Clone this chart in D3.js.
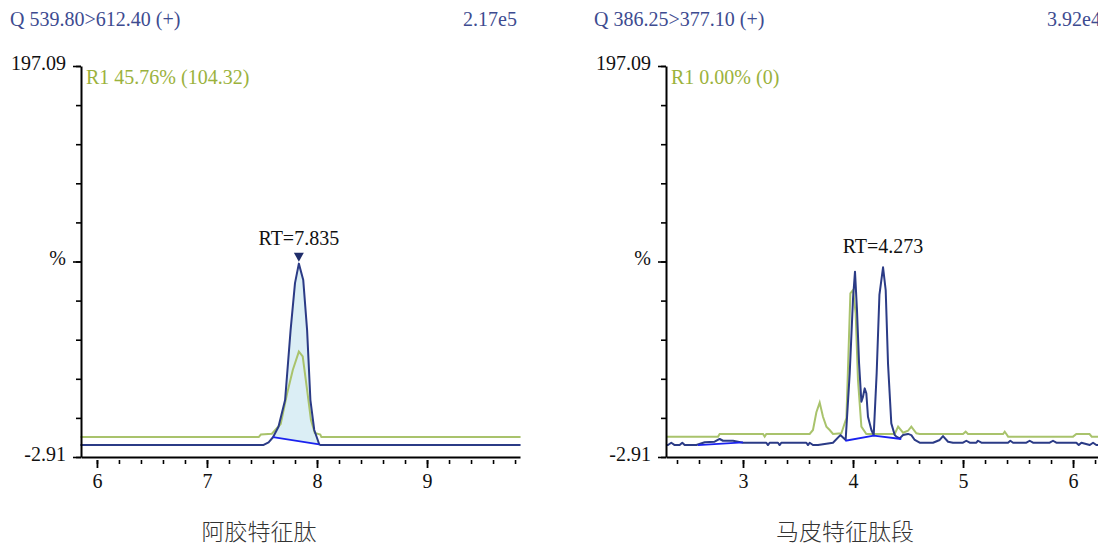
<!DOCTYPE html>
<html>
<head>
<meta charset="utf-8">
<script src="https://cdn.jsdelivr.net/npm/d3@7"></script>
<style>
  body { margin: 0; background: #fff; }
  svg { display: block; }
</style>
</head>
<body>
<svg id="chart" width="1098" height="546"></svg>
<script>
// ---- data ----
const yDomain = [-2.91, 197.09];
const yTickValues = d3.range(0, 11).map(i => -2.91 + i * 20);
const yTickLabels = { '-2.91': '-2.91', '97.09': '%', '197.09': '197.09' };

const leftTitle = '阿胶特征肽';
const leftTransition = 'Q 539.80>612.40 (+)';
const leftIntensity = '2.17e5';
const leftRatio = 'R1 45.76% (104.32)';
const leftRT = 7.835;
const leftXTicks = [6, 7, 8, 9];
const leftSample = [
  [5.85, 3.2], [7.51, 3.2], [7.56, 4.6], [7.60, 7.2], [7.65, 12.6], [7.71, 26.2],
  [7.76, 62], [7.80, 86], [7.835, 96], [7.875, 87.6], [7.91, 62], [7.94, 26.2],
  [7.975, 10.9], [8.02, 3.6], [8.03, 3.2], [9.85, 3.2]
];
const leftReference = [
  [5.85, 7.3], [7.47, 7.3], [7.49, 8.6], [7.59, 9.0], [7.67, 14], [7.73, 30],
  [7.78, 41.6], [7.835, 51], [7.87, 48.5], [7.91, 31.4], [7.945, 16], [7.98, 9.4],
  [8.03, 8.6], [8.04, 7.3], [9.85, 7.3]
];
const leftBaselines = [[[7.60, 7.2], [8.02, 3.6]]];

const rightTitle = '马皮特征肽段';
const rightTransition = 'Q 386.25>377.10 (+)';
const rightIntensity = '3.92e4';
const rightRatio = 'R1 0.00% (0)';
const rightRT = 4.273;
const rightXTicks = [3, 4, 5, 6];
const rightSample = [
  [2.30, 3.2], [2.318, 3.2], [2.348, 4.4], [2.379, 3.2], [2.424, 3.2], [2.448, 4.4],
  [2.470, 3.2], [2.576, 3.2], [2.652, 4.6], [2.742, 4.9], [2.788, 6.3], [2.818, 5.4],
  [2.909, 5.4], [3.0, 4.4], [3.212, 4.4], [3.227, 3.2], [3.242, 4.4], [3.318, 4.4],
  [3.333, 3.2], [3.348, 4.4], [3.576, 4.4], [3.591, 3.2], [3.606, 4.4], [3.636, 3.2],
  [3.682, 3.2], [3.818, 4.4], [3.885, 8.3], [3.933, 5.8], [3.97, 40], [4.0, 78],
  [4.018, 91.9], [4.036, 72.3], [4.055, 45], [4.076, 25.4], [4.091, 28], [4.106, 32.2],
  [4.121, 29.7], [4.136, 17.7], [4.167, 10.9], [4.188, 8.3], [4.215, 40], [4.24, 80],
  [4.273, 94.1], [4.297, 82.5], [4.318, 45], [4.348, 14.3], [4.379, 8.3], [4.394, 7.5],
  [4.424, 6.6], [4.455, 8.3], [4.5, 8.9], [4.530, 8.3], [4.561, 5.8], [4.606, 4.4],
  [4.727, 4.4], [4.788, 5.8], [4.818, 7.8], [4.864, 4.9], [4.909, 4.4], [5.0, 4.4],
  [5.030, 5.4], [5.061, 4.4], [5.121, 4.4], [5.136, 5.4], [5.167, 4.4], [5.409, 4.4],
  [5.430, 5.4], [5.455, 4.4], [5.576, 4.4], [5.606, 5.4], [5.636, 4.4], [5.788, 4.4],
  [5.818, 5.4], [5.848, 4.4], [6.030, 4.4], [6.052, 3.2], [6.076, 4.4], [6.152, 3.2],
  [6.182, 4.4], [6.212, 3.2], [6.24, 3.2]
];
const rightReference = [
  [2.30, 7.5], [2.773, 7.5], [2.788, 8.85], [3.182, 8.85], [3.197, 7.5], [3.212, 8.85],
  [3.606, 8.85], [3.636, 10.9], [3.667, 20], [3.697, 24.9], [3.727, 17.7], [3.758, 12.6],
  [3.788, 10.9], [3.818, 8.85], [3.894, 9.2], [3.94, 17], [3.976, 80.8], [4.0, 82.5],
  [4.024, 70.6], [4.045, 36.5], [4.076, 12.6], [4.121, 8.85], [4.379, 8.85], [4.41, 12.6],
  [4.455, 9.5], [4.5, 10.5], [4.53, 12.6], [4.576, 9.2], [4.606, 8.85], [5.0, 8.85],
  [5.024, 10.05], [5.045, 8.85], [5.364, 8.85], [5.379, 10.05], [5.394, 8.85], [5.41, 7.5],
  [6.0, 7.5], [6.03, 8.85], [6.15, 8.85], [6.17, 7.5], [6.24, 7.5]
];
const rightBaselines = [
  [[2.591, 3.2], [3.0, 4.6]],
  [[3.93, 5.4], [4.188, 8.0], [4.439, 6.3]]
];

// ---- layout / style ----
const plotTop = 66, plotHeight = 391;
const serif = '"Liberation Serif", "Times New Roman", serif';
const fontSize = 20;
const navy = '#2b3b86';
const olive = '#a9c36c';
const headerColor = '#3d4b90';
const ratioColor = '#9bb23c';

const svg = d3.select('#chart');

function drawPanel(p) {
  const x = d3.scaleLinear().domain(p.xDomain).range([0, p.width]);
  const y = d3.scaleLinear().domain(yDomain).range([plotHeight, 0]);
  const line = d3.line().x(d => x(d[0])).y(d => y(d[1]));

  // header texts
  svg.append('text')
    .attr('x', p.headerX).attr('y', 26)
    .attr('font-family', serif).attr('font-size', fontSize)
    .attr('fill', headerColor)
    .text(p.transition);
  svg.append('text')
    .attr('x', p.intensityX).attr('y', 26)
    .attr('text-anchor', 'end')
    .attr('font-family', serif).attr('font-size', fontSize)
    .attr('fill', headerColor)
    .text(p.intensity);

  const g = svg.append('g').attr('transform', `translate(${p.left}, ${plotTop})`);

  // integrated area (sample peak above its baseline)
  if (p.fill) {
    const b = p.baselines[0];
    const start = b[0], end = b[b.length - 1];
    const pts = [start].concat(p.sample.filter(d => d[0] > start[0] && d[0] < end[0]), [end]);
    g.append('path')
      .attr('d', line(pts) + 'Z')
      .attr('fill', '#dbeef5')
      .attr('stroke', 'none');
  }

  g.append('path')
    .attr('d', line(p.reference))
    .attr('fill', 'none')
    .attr('stroke', olive)
    .attr('stroke-width', 2);

  g.append('path')
    .attr('d', line(p.sample))
    .attr('fill', 'none')
    .attr('stroke', navy)
    .attr('stroke-width', 2)
    .attr('stroke-linejoin', 'round');

  p.baselines.forEach(b => {
    g.append('path')
      .attr('d', line(b))
      .attr('fill', 'none')
      .attr('stroke', '#1a22ee')
      .attr('stroke-width', 1.8);
  });

  // axes: minor ticks then labelled major ticks (ticks sit a little below the axis line)
  const xMinor = d3.range(Math.ceil(p.xDomain[0] * 5), Math.floor(p.xDomain[1] * 5) + 1).map(k => k / 5);
  g.append('g')
    .attr('transform', `translate(0, ${plotHeight})`)
    .call(d3.axisBottom(x).tickValues(xMinor).tickSize(7).tickSizeOuter(0).tickFormat(''))
    .call(a => a.select('.domain').remove())
    .call(a => a.selectAll('.tick line').attr('y1', 3).attr('stroke-width', 1.6));
  const xAxis = g.append('g')
    .attr('transform', `translate(0, ${plotHeight})`)
    .call(d3.axisBottom(x).tickValues(p.xTicks).tickSize(11).tickSizeOuter(0)
      .tickPadding(6).tickFormat(d3.format('d')));
  xAxis.select('.domain').attr('stroke-width', 2);
  xAxis.selectAll('.tick line').attr('y1', 3).attr('stroke-width', 1.8);
  xAxis.selectAll('text')
    .attr('font-family', serif).attr('font-size', fontSize).attr('fill', '#111');

  g.append('g')
    .call(d3.axisLeft(y).tickValues(yTickValues).tickSize(5).tickSizeOuter(0).tickFormat(''))
    .call(a => a.select('.domain').remove())
    .call(a => a.selectAll('.tick line').attr('stroke-width', 1.6));
  const yAxis = g.append('g')
    .call(d3.axisLeft(y)
      .tickValues(yTickValues.filter(v => yTickLabels[v.toFixed(2)]))
      .tickSize(8).tickSizeOuter(0).tickPadding(7)
      .tickFormat(v => yTickLabels[v.toFixed(2)]));
  yAxis.select('.domain').attr('stroke-width', 2);
  yAxis.selectAll('.tick line').attr('stroke-width', 1.6);
  yAxis.selectAll('text')
    .attr('font-family', serif).attr('font-size', fontSize).attr('fill', '#111')
    .attr('dy', '0.15em');

  // ratio text
  g.append('text')
    .attr('x', 5).attr('y', 18)
    .attr('font-family', serif).attr('font-size', fontSize)
    .attr('fill', ratioColor)
    .text(p.ratio);

  // peak label
  const apex = d3.greatest(p.sample.filter(d => Math.abs(d[0] - p.rt) < 0.01), d => d[1]);
  if (p.marker) {
    const mx = x(p.rt), my = y(apex[1]) - 2;
    g.append('path')
      .attr('d', `M${mx - 5},${my - 9}L${mx + 5},${my - 9}L${mx},${my}Z`)
      .attr('fill', '#1f2d6a');
  }
  g.append('text')
    .attr('x', x(p.rt)).attr('y', y(apex[1]) - p.labelGap)
    .attr('text-anchor', 'middle')
    .attr('font-family', serif).attr('font-size', fontSize)
    .attr('fill', '#111')
    .text('RT=' + p.rt.toFixed(3));

  // panel caption
  svg.append('text')
    .attr('x', p.captionX).attr('y', 540)
    .attr('text-anchor', 'middle')
    .attr('font-family', '"Noto Sans CJK SC", sans-serif').attr('font-size', 23)
    .attr('font-weight', 300)
    .attr('fill', '#333')
    .text(p.title);
}

drawPanel({
  left: 81, width: 439, xDomain: [5.855, 9.845],
  headerX: 10, intensityX: 517, captionX: 259,
  transition: leftTransition, intensity: leftIntensity, ratio: leftRatio,
  title: leftTitle, rt: leftRT, xTicks: leftXTicks,
  sample: leftSample, reference: leftReference, baselines: leftBaselines,
  fill: true, marker: true, labelGap: 19
});

drawPanel({
  left: 666, width: 433, xDomain: [2.30, 6.236],
  headerX: 594, intensityX: 1101, captionX: 845,
  transition: rightTransition, intensity: rightIntensity, ratio: rightRatio,
  title: rightTitle, rt: rightRT, xTicks: rightXTicks,
  sample: rightSample, reference: rightReference, baselines: rightBaselines,
  fill: false, marker: false, labelGap: 14
});
</script>
</body>
</html>
